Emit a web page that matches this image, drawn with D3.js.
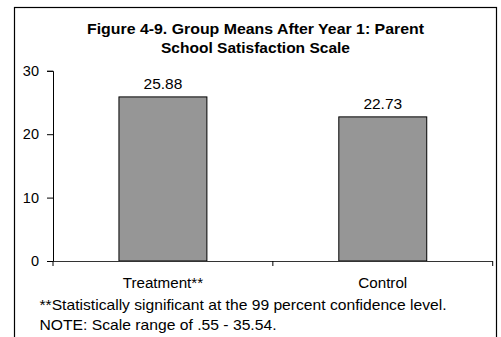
<!DOCTYPE html>
<html>
<head>
<meta charset="utf-8">
<script src="https://cdn.jsdelivr.net/npm/d3@7"></script>
<style>
  html, body { margin: 0; padding: 0; background: #fff; }
  svg { display: block; font-family: Arial, "Liberation Sans", sans-serif; }
</style>
</head>
<body>
<svg id="chart" width="501" height="337"></svg>
<script>
// Chart data
const categories = ["Treatment**", "Control"];
const means = [25.88, 22.73];
const yTicks = [0, 10, 20, 30];
const titleLines = ["Figure 4-9. Group Means After Year 1: Parent", "School Satisfaction Scale"];
const notes = [
  "**Statistically significant at the 99 percent confidence level.",
  "NOTE: Scale range of .55 - 35.54."
];

// Set widths for the wide text runs (glyphs are drawn slightly stretched)
const titleWidths = [337, 189];
const noteWidths = [407, 237];

const svg = d3.select("#chart");

// Outer frame (open at the bottom edge of the page)
svg.append("rect")
  .attr("x", 14.5).attr("y", 7.5)
  .attr("width", 482).attr("height", 340)
  .attr("fill", "#fff").attr("stroke", "#000").attr("stroke-width", 1.2);

// Title
svg.append("g").selectAll("text").data(titleLines).join("text")
  .attr("x", 255.5)
  .attr("y", (d, i) => 33.5 + i * 19)
  .attr("text-anchor", "middle")
  .attr("font-weight", "bold")
  .attr("font-size", 14.2)
  .attr("textLength", (d, i) => titleWidths[i])
  .attr("lengthAdjust", "spacingAndGlyphs")
  .attr("fill", "#000")
  .text(d => d);

const plot = { left: 53, right: 492.7, top: 70.8, bottom: 261 };

const x = d3.scaleBand()
  .domain(categories)
  .range([plot.left, plot.right])
  .paddingInner(0.6)
  .paddingOuter(0.3);

const y = d3.scaleLinear()
  .domain([0, 30])
  .range([plot.bottom, plot.top]);

// Bars
svg.append("g").selectAll("rect").data(means).join("rect")
  .attr("x", (d, i) => x(categories[i]))
  .attr("y", d => y(d))
  .attr("width", x.bandwidth())
  .attr("height", d => y(0) - y(d))
  .attr("fill", "#969696")
  .attr("stroke", "#000")
  .attr("stroke-width", 1);

// Value labels
svg.append("g").selectAll("text").data(means).join("text")
  .attr("x", (d, i) => x(categories[i]) + x.bandwidth() / 2)
  .attr("y", d => y(d) - 8.2)
  .attr("text-anchor", "middle")
  .attr("font-size", 15.5)
  .attr("fill", "#000")
  .text(d => d.toFixed(2));

// Y axis
const yAxis = svg.append("g")
  .attr("transform", `translate(${plot.left},0)`)
  .call(d3.axisLeft(y).tickValues(yTicks).tickSize(6).tickPadding(8).tickFormat(d3.format("d")));
yAxis.select(".domain").attr("stroke", "#000");
yAxis.selectAll(".tick line").attr("stroke", "#000");
yAxis.selectAll(".tick text")
  .attr("font-size", 14.5)
  .attr("font-family", "Arial, 'Liberation Sans', sans-serif")
  .attr("fill", "#000");

// X axis: ticks sit on the category boundaries
const step = x.step();
const boundaries = [plot.left, plot.left + step, plot.right];
const xAxisG = svg.append("g");
xAxisG.append("line")
  .attr("x1", plot.left).attr("x2", plot.right)
  .attr("y1", plot.bottom + 0.5).attr("y2", plot.bottom + 0.5)
  .attr("stroke", "#333").attr("stroke-width", 1);
xAxisG.selectAll("line.tk").data(boundaries).join("line")
  .attr("class", "tk")
  .attr("x1", d => d).attr("x2", d => d)
  .attr("y1", plot.bottom).attr("y2", plot.bottom + 5)
  .attr("stroke", "#000");

// Category labels
svg.append("g").selectAll("text").data(categories).join("text")
  .attr("x", d => x(d) + x.bandwidth() / 2)
  .attr("y", 288)
  .attr("text-anchor", "middle")
  .attr("font-size", 15.2)
  .attr("fill", "#000")
  .text(d => d);

// Notes
svg.append("g").selectAll("text").data(notes).join("text")
  .attr("x", 39.5)
  .attr("y", (d, i) => 309.5 + i * 20)
  .attr("font-size", 14.5)
  .attr("textLength", (d, i) => noteWidths[i])
  .attr("lengthAdjust", "spacingAndGlyphs")
  .attr("fill", "#000")
  .text(d => d);
</script>
</body>
</html>
